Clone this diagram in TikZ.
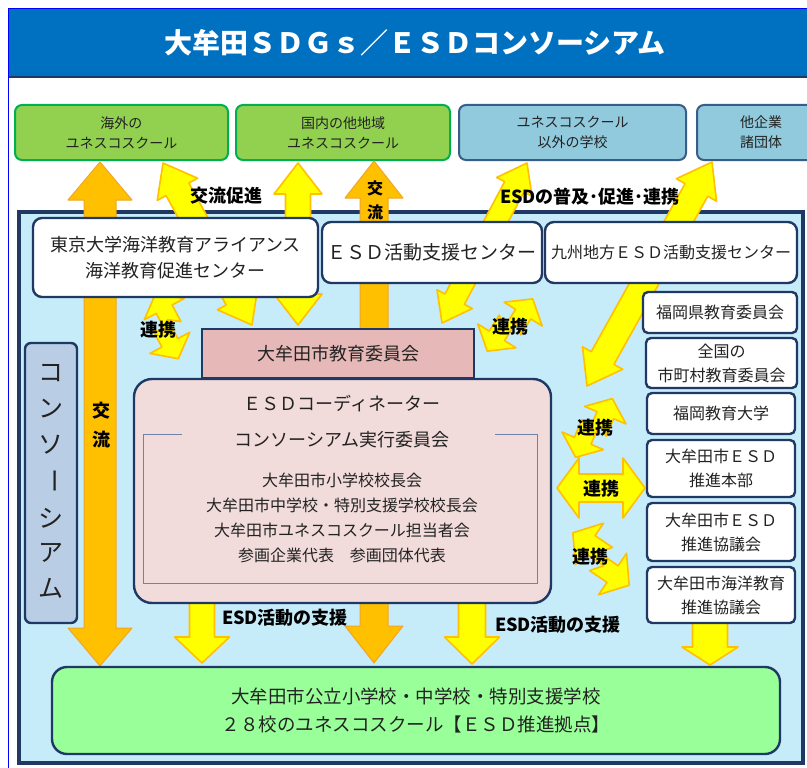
\documentclass[tikz,border=0pt]{standalone}
\usepackage{fontspec}
\setmainfont{Noto Sans CJK JP}
\definecolor{navy}{RGB}{31,56,100}
\definecolor{titleblue}{RGB}{0,112,192}
\definecolor{frameblue}{RGB}{0,0,255}
\definecolor{topgF}{RGB}{146,208,80}
\definecolor{topgD}{RGB}{0,176,80}
\definecolor{topbF}{RGB}{146,202,221}
\definecolor{topbD}{RGB}{56,93,138}
\definecolor{consfill}{RGB}{198,236,250}
\definecolor{pinkdark}{RGB}{230,184,183}
\definecolor{pinklight}{RGB}{242,220,219}
\definecolor{steel}{RGB}{185,205,229}
\definecolor{schoolgreen}{RGB}{153,255,153}
\definecolor{orangeF}{RGB}{255,192,0}
\definecolor{orangeD}{RGB}{240,165,40}
\definecolor{yellowF}{RGB}{255,255,0}
\definecolor{yellowD}{RGB}{255,192,0}
\definecolor{bracketc}{RGB}{110,130,170}
\definecolor{txt}{RGB}{34,34,34}
\newcommand\fsz[2]{\fontsize{#1}{#2}\selectfont}
% double block arrow: [style]{x1}{y1}{x2}{y2}{shaft half width}{head half width}{head length}
\newcommand\dblarrow[8][]{%
  \pgfmathsetmacro\arrL{veclen((#4)-(#2),(#5)-(#3))}%
  \pgfmathsetmacro\arrA{atan2(-((#5)-(#3)),(#4)-(#2))}%
  \pgfmathsetmacro\arrK{\arrL-#8}%
  \begin{scope}[shift={(#2,#3)},rotate=\arrA]
    \draw[#1] (0,0) -- (#8,#7) -- (#8,#6) -- (\arrK,#6) -- (\arrK,#7) -- (\arrL,0)
      -- (\arrK,-#7) -- (\arrK,-#6) -- (#8,-#6) -- (#8,-#7) -- cycle;
  \end{scope}}
% single block arrow: [style]{tail x}{tail y}{tip x}{tip y}{shaft hw}{head hw}{head len}
\newcommand\sglarrow[8][]{%
  \pgfmathsetmacro\arrL{veclen((#4)-(#2),(#5)-(#3))}%
  \pgfmathsetmacro\arrA{atan2(-((#5)-(#3)),(#4)-(#2))}%
  \pgfmathsetmacro\arrK{\arrL-#8}%
  \begin{scope}[shift={(#2,#3)},rotate=\arrA]
    \draw[#1] (0,#6) -- (\arrK,#6) -- (\arrK,#7) -- (\arrL,0) -- (\arrK,-#7)
      -- (\arrK,-#6) -- (0,-#6) -- cycle;
  \end{scope}}
% zig-zag double arrow: {cx}{cy}{angle}{scale}
\newcommand\zigarrow[4]{%
  \begin{scope}[shift={(#1,#2)},rotate=#3,scale=#4]
    \draw[yarr] (38,6) -- (18,31) -- (18,16) -- (-3,16) -- (6,4) -- (-18,4) -- (-18,19)
      -- (-38,-6) -- (-18,-31) -- (-18,-16) -- (3,-16) -- (-6,-4) -- (18,-4) -- (18,-19) -- cycle;
  \end{scope}}
\begin{document}
\begin{tikzpicture}[x=1pt,y=-1pt,
  oarr/.style={fill=orangeF,draw=orangeD,line width=1pt,line join=round},
  yarr/.style={fill=yellowF,draw=yellowD,line width=1.6pt,line join=round},
  topg/.style={draw=topgD,fill=topgF,line width=2pt,rounded corners=7pt,align=center,text=txt,font=\fsz{14}{20},inner sep=0pt},
  topb/.style={topg,draw=topbD,fill=topbF},
  wbox/.style={draw=navy,fill=white,line width=2.4pt,rounded corners=9pt,align=center,text=txt,inner sep=0pt},
  rbox/.style={wbox,rounded corners=5pt,font=\fsz{16}{24}},
  lbl/.style={font=\bfseries\fsz{18}{22},text=black,inner sep=0pt},
  plain/.style={text=txt,inner sep=0pt,align=center}]
\clip (0,0) rectangle (807,768);
\fill[white] (0,0) rectangle (807,768);
% title
\fill[titleblue] (9,9) rectangle (807,77);
\draw[navy,line width=1.2pt] (9,77) -- (807,77);
\draw[frameblue,line width=1.5pt] (8.5,768) -- (8.5,8.5) -- (807,8.5);
\node[text=white,font=\bfseries\fsz{28}{30},inner sep=0pt] (title) at (415,43) {大牟田ＳＤＧｓ／ＥＳＤコンソーシアム};
% top boxes
\node[topg,minimum width=213pt,minimum height=55pt] (overseas) at (121.5,132.5) {海外の\\ユネスコスクール};
\node[topg,minimum width=214pt,minimum height=55pt] (domestic) at (343,132.5) {国内の他地域\\ユネスコスクール};
\node[topb,minimum width=227pt,minimum height=55pt] (nonunesco) at (572.5,132.5) {ユネスコスクール\\以外の学校};
\node[topb,minimum width=128pt,minimum height=55pt] (corp) at (761,132.5) {他企業\\諸団体};
% consortium frame
\node[draw=navy,line width=4.5pt,fill=consfill,minimum width=784pt,minimum height=551pt,inner sep=0pt] (consortium) at (411,487.5) {};
% orange arrows
\dblarrow[oarr]{100}{162}{100}{666}{16}{32}{38}
\dblarrow[oarr]{374}{161}{374}{663}{14}{29}{37}
% yellow arrows
\dblarrow[yarr]{163}{163}{252}{325}{13}{23}{30}
\dblarrow[yarr]{298}{163}{298}{325}{12.5}{24}{31}
\dblarrow[yarr]{527}{163}{442}{323}{11}{20}{27}
\dblarrow[yarr]{712}{162}{587}{386}{13}{23}{32}
\sglarrow[yarr]{202}{600}{202}{663}{12.5}{27.5}{26}
\sglarrow[yarr]{472}{600}{472}{664}{13.5}{27.5}{27}
\sglarrow[yarr]{710}{620}{710}{665}{17.5}{28}{18}
\zigarrow{167}{326}{-62}{0.9}
\zigarrow{510}{325}{58}{0.9}
\zigarrow{594}{428}{67}{0.9}
\dblarrow[yarr]{557}{488}{645}{488}{14}{30}{22}
\zigarrow{601}{559}{-34}{1.0}
% inner boxes
\node[wbox,font=\fsz{18}{26},minimum width=285pt,minimum height=79pt] (tokyo) at (175.5,257.5) {東京大学海洋教育アライアンス\\海洋教育促進センター};
\node[wbox,font=\fsz{19}{24},minimum width=220pt,minimum height=61pt] (esdc) at (432,252.5) {ＥＳＤ活動支援センター};
\node[wbox,font=\fsz{16}{24},minimum width=252pt,minimum height=61pt] (kyushu) at (671,252.5) {九州地方ＥＳＤ活動支援センター};
\node[rbox,minimum width=154pt,minimum height=41pt] (fpref) at (720,312.5) {福岡県教育委員会};
\node[rbox,minimum width=151pt,minimum height=50pt] (zenkoku) at (721.5,363) {全国の\\市町村教育委員会};
\node[rbox,minimum width=148pt,minimum height=41pt] (fue) at (721,413.5) {福岡教育大学};
\node[rbox,minimum width=148pt,minimum height=57pt] (hq) at (721,468.5) {大牟田市ＥＳＤ\\推進本部};
\node[rbox,minimum width=148pt,minimum height=58pt] (council) at (721,532) {大牟田市ＥＳＤ\\推進協議会};
\node[rbox,minimum width=148pt,minimum height=56pt] (marine) at (721,595) {大牟田市海洋教育\\推進協議会};
\node[draw=navy,fill=pinkdark,line width=2.4pt,minimum width=272pt,minimum height=49pt,inner sep=0pt,text=txt,font=\fsz{18}{22}] (boe) at (338,353.5) {大牟田市教育委員会};
\node[draw=navy,fill=pinklight,line width=2.4pt,rounded corners=18pt,minimum width=417pt,minimum height=224pt,inner sep=0pt] (coord) at (342.5,491) {};
\draw[bracketc,line width=0.8pt] (182,434) -- (143,434) -- (143,583) -- (537,583) -- (537,434) -- (495,434);
\node[plain,font=\fsz{18}{22}] (coordT1) at (342,404) {ＥＳＤコーディネーター};
\node[plain,font=\fsz{18}{22}] (coordT2) at (342,440) {コンソーシアム実行委員会};
\node[plain,font=\fsz{16}{25}] (coordM) at (342,518) {大牟田市小学校校長会\\大牟田市中学校・特別支援学校校長会\\大牟田市ユネスコスクール担当者会\\参画企業代表　参画団体代表};
\node[draw=navy,fill=steel,line width=2.4pt,rounded corners=6pt,minimum width=52pt,minimum height=280pt,inner sep=0pt] (cons) at (51,483) {};
\node[plain,font=\fsz{25}{28}] (c1) at (51,373) {コ};
\node[plain,font=\fsz{25}{28}] (c2) at (51,409) {ン};
\node[plain,font=\fsz{25}{28}] (c3) at (51,445) {ソ};
\node[plain,font=\fsz{25}{28},rotate=-90] (c4) at (51,481) {ー};
\node[plain,font=\fsz{25}{28}] (c5) at (51,518) {シ};
\node[plain,font=\fsz{25}{28}] (c6) at (51,553) {ア};
\node[plain,font=\fsz{25}{28}] (c7) at (51,588) {ム};
\node[draw=navy,fill=schoolgreen,line width=2.4pt,rounded corners=15pt,minimum width=728pt,minimum height=87pt,inner sep=0pt,align=center,text=txt,font=\fsz{18.5}{28}] (school) at (416,710.5) {大牟田市公立小学校・中学校・特別支援学校\\２８校のユネスコスクール【ＥＳＤ推進拠点】};
% labels
\node[lbl] (lbA) at (226,196) {交流促進};
\node[lbl] (lbB) at (590,197) {ESDの普及･促進･連携};
\node[lbl,font=\bfseries\fsz{16}{20}] (lbC1) at (375,188) {交};
\node[lbl,font=\bfseries\fsz{16}{20}] (lbC2) at (375,212) {流};
\node[lbl] (lbD1) at (101,411) {交};
\node[lbl] (lbD2) at (101,440) {流};
\node[lbl] (lbE) at (158,330) {連携};
\node[lbl] (lbF) at (510,327) {連携};
\node[lbl] (lbG) at (595,428) {連携};
\node[lbl] (lbH) at (601,489) {連携};
\node[lbl] (lbI) at (590,557) {連携};
\node[lbl] (lbJ) at (285,618) {ESD活動の支援};
\node[lbl] (lbK) at (558,625) {ESD活動の支援};
\end{tikzpicture}
\end{document}
